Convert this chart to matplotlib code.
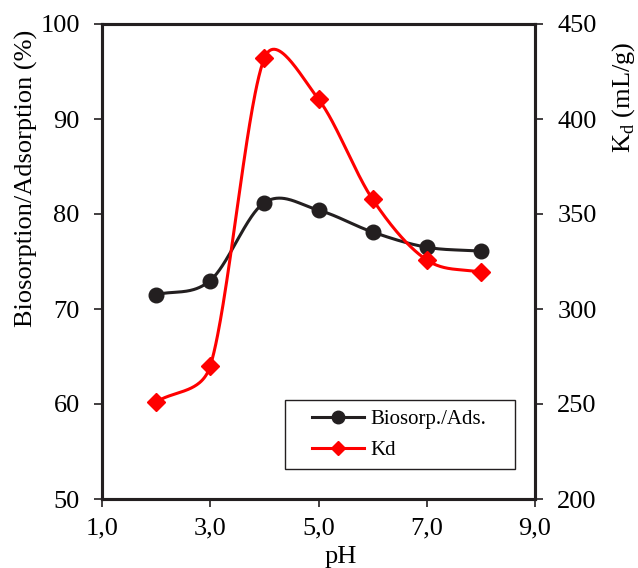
import numpy as np
import matplotlib.pyplot as plt
from matplotlib.lines import Line2D
from matplotlib.patches import Rectangle

plt.rcParams['font.family'] = ['Liberation Serif', 'DejaVu Serif']
plt.rcParams['mathtext.fontset'] = 'custom'
plt.rcParams['mathtext.rm'] = 'Liberation Serif'

# data
ph = [2, 3, 4, 5, 6, 7, 8]
biosorp = [71.5, 73.0, 81.2, 80.4, 78.1, 76.5, 76.1]
kd = [251.0, 270.0, 432.0, 410.4, 357.7, 325.8, 319.3]

xticks = [1, 3, 5, 7, 9]
xticklabels = ['1,0', '3,0', '5,0', '7,0', '9,0']

frame = '#231f20'
red = '#ff0000'


# Excel-like smoothed line: Catmull-Rom Bezier in screen space,
# control arms capped to a share of the segment length
def smooth(a, x, y, r=0.45, n=60):
    p = a.transData.transform(np.column_stack([x, y]))
    m = len(p)
    t = np.linspace(0, 1, n)[:, None]

    def arm(v, L):
        d = np.hypot(*v)
        return v if d <= r * L else v * r * L / d

    out = []
    for i in range(m - 1):
        L = np.hypot(*(p[i + 1] - p[i]))
        v1 = (p[i + 1] - p[max(i - 1, 0)]) / (6 if i > 0 else 3)
        v2 = (p[min(i + 2, m - 1)] - p[i]) / (6 if i < m - 2 else 3)
        b1 = p[i] + arm(v1, L)
        b2 = p[i + 1] - arm(v2, L)
        seg = (1 - t) ** 3 * p[i] + 3 * (1 - t) ** 2 * t * b1 + 3 * (1 - t) * t ** 2 * b2 + t ** 3 * p[i + 1]
        out.append(seg if i == 0 else seg[1:])
    s = a.transData.inverted().transform(np.vstack(out))
    return s[:, 0], s[:, 1]


fig = plt.figure(figsize=(6.38, 5.68), dpi=100)
ax = fig.add_axes([102 / 638, 1 - 499 / 568, 433 / 638, 475 / 568])
ax2 = ax.twinx()

ax.set_xlim(1, 9)
ax.set_ylim(50, 100)
ax2.set_ylim(200, 450)
ax.set_xticks(xticks)
ax.set_xticklabels(xticklabels)
ax.set_yticks(range(50, 101, 10))
ax2.set_yticks(range(200, 451, 50))

sx, sy = smooth(ax, ph, biosorp)
ax.plot(sx, sy, color=frame, lw=2.2)
ax.plot(ph, biosorp, 'o', color=frame, ms=10.5)

kx, ky = smooth(ax2, ph, kd)
ax2.plot(kx, ky, color=red, lw=2.2)
ax2.plot(ph, kd, 'D', color=red, ms=9.5)

for a in (ax, ax2):
    for s in a.spines.values():
        s.set_linewidth(2.2)
        s.set_color(frame)
    a.tick_params(direction='out', length=6, width=1.2, color=frame, labelsize=19, pad=10)
ax.tick_params(axis='x', pad=7)

ax.set_xlabel('pH', fontsize=19)
ax.xaxis.set_label_coords(0.552, -0.122)
ax.xaxis.label.set_va('center')

ax.set_ylabel('Biosorption/Adsorption (%)', fontsize=19)
ax.yaxis.set_label_coords(-0.1755, 0.676)
ax.yaxis.label.set_va('center')

ax2.set_ylabel(r'K$_\mathregular{d}$ (mL/g)', fontsize=19, rotation=90)
ax2.yaxis.set_label_coords(1.205, 0.846)
ax2.yaxis.label.set_va('center')

# legend box
ax.add_patch(Rectangle((0.4226, 0.063), 0.5314, 0.145, transform=ax.transAxes,
                       fill=False, edgecolor=frame, lw=1.0, zorder=5))
handles = [
    Line2D([], [], color=frame, lw=2.2, marker='o', ms=9),
    Line2D([], [], color=red, lw=2.2, marker='D', ms=7),
]
leg = ax2.legend(handles, ['Biosorp./Ads.', 'Kd'], loc='center left',
                 bbox_to_anchor=(0.485, 0.135), fontsize=15, frameon=False,
                 handlelength=2.5, borderpad=0, labelspacing=0.55,
                 handletextpad=0.3, borderaxespad=0)

fig.savefig('out.png', dpi=100)
